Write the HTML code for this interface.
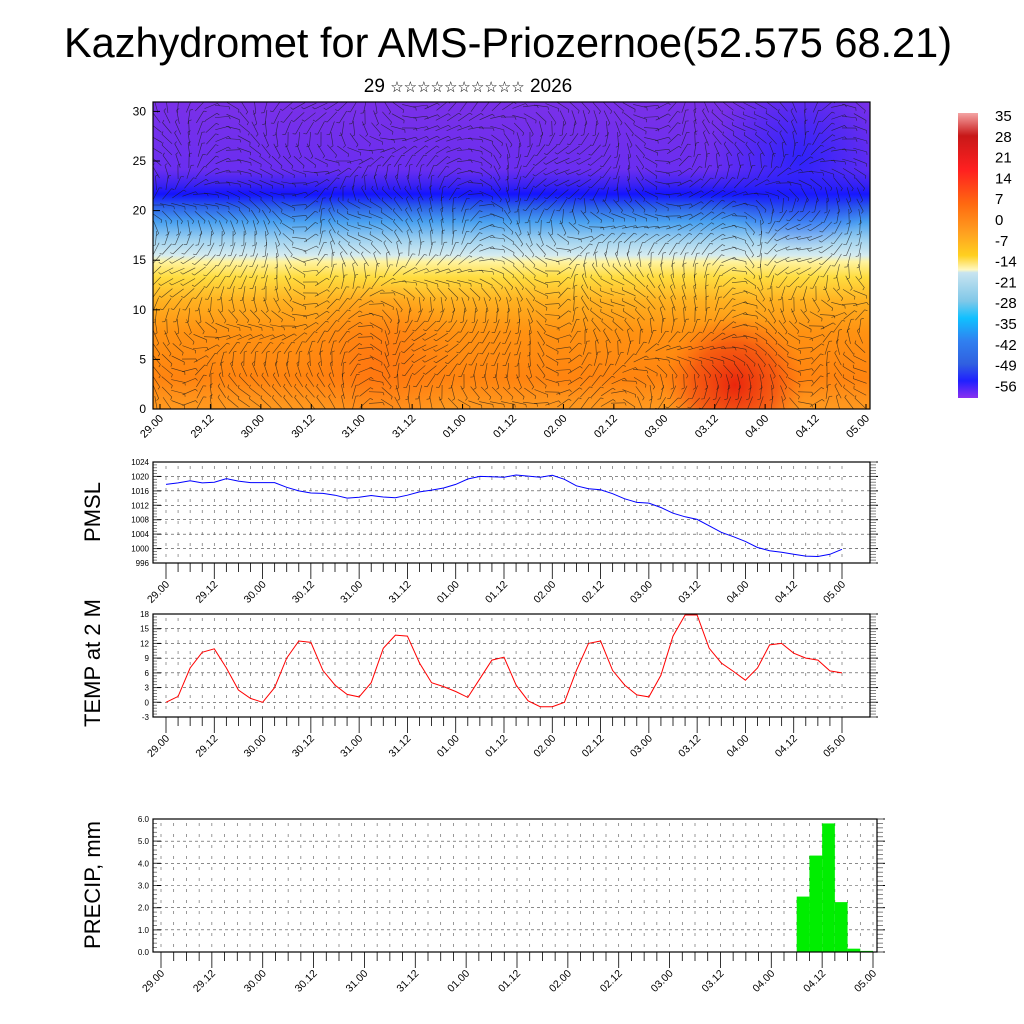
<!DOCTYPE html>
<html><head><meta charset="utf-8"><style>
body{margin:0;background:#fff;}
svg{display:block;font-family:"Liberation Sans",sans-serif;}
</style></head><body>
<svg id="s" width="1024" height="1024" viewBox="0 0 1024 1024" xmlns="http://www.w3.org/2000/svg">
<defs>
<linearGradient id="vg" x1="0" y1="102" x2="0" y2="409" gradientUnits="userSpaceOnUse">
<stop offset="0" stop-color="#7a30e8"/><stop offset="0.22" stop-color="#6a2ef0"/>
<stop offset="0.27" stop-color="#3a22f2"/><stop offset="0.30" stop-color="#1414ff"/>
<stop offset="0.34" stop-color="#2a5ee8"/><stop offset="0.39" stop-color="#48a0f0"/>
<stop offset="0.45" stop-color="#a0d2f0"/><stop offset="0.50" stop-color="#d6ecf0"/>
<stop offset="0.52" stop-color="#fff3a0"/><stop offset="0.57" stop-color="#ffdd40"/>
<stop offset="0.65" stop-color="#ffb020"/><stop offset="0.75" stop-color="#ff9212"/>
<stop offset="0.9" stop-color="#ff8410"/><stop offset="1" stop-color="#ff9a20"/>
</linearGradient>
<radialGradient id="rp" cx="735" cy="385" r="70" gradientUnits="userSpaceOnUse">
<stop offset="0" stop-color="#e8200c" stop-opacity="0.95"/><stop offset="0.6" stop-color="#f04010" stop-opacity="0.6"/><stop offset="1" stop-color="#ff6010" stop-opacity="0"/>
</radialGradient>
<radialGradient id="op" cx="380" cy="360" r="80" gradientUnits="userSpaceOnUse">
<stop offset="0" stop-color="#ff6a10" stop-opacity="0.6"/><stop offset="1" stop-color="#ff7010" stop-opacity="0"/>
</radialGradient>
<radialGradient id="bp" cx="800" cy="160" r="90" gradientUnits="userSpaceOnUse">
<stop offset="0" stop-color="#2020ff" stop-opacity="0.8"/><stop offset="1" stop-color="#2020ff" stop-opacity="0"/>
</radialGradient>
<linearGradient id="cb" x1="0" y1="113" x2="0" y2="398" gradientUnits="userSpaceOnUse">
<stop offset="0" stop-color="#f4a4a4"/><stop offset="0.08" stop-color="#c81818"/>
<stop offset="0.2" stop-color="#ff2020"/><stop offset="0.32" stop-color="#ff6a10"/>
<stop offset="0.42" stop-color="#ffa020"/><stop offset="0.5" stop-color="#ffd020"/>
<stop offset="0.55" stop-color="#fff8c0"/><stop offset="0.56" stop-color="#c8e4f0"/>
<stop offset="0.66" stop-color="#80c8e8"/><stop offset="0.72" stop-color="#10c0ff"/>
<stop offset="0.8" stop-color="#3080f0"/><stop offset="0.88" stop-color="#3060e0"/>
<stop offset="0.94" stop-color="#2020ff"/><stop offset="1" stop-color="#8a30f0"/>
</linearGradient>
<clipPath id="tc"><rect x="153" y="102" width="717" height="307"/></clipPath>
</defs>
<text x="508" y="57" font-size="41.5" text-anchor="middle">Kazhydromet for AMS-Priozernoe(52.575 68.21)</text>
<text x="468" y="92" font-size="19" text-anchor="middle">29 <tspan font-size="15">☆☆☆☆☆☆☆☆☆☆</tspan> 2026</text>
<g id="top">
<rect x="153" y="102" width="717" height="307" fill="url(#vg)"/>
<rect x="153" y="102" width="717" height="307" fill="url(#op)" clip-path="url(#tc)"/>
<rect x="153" y="102" width="717" height="307" fill="url(#rp)" clip-path="url(#tc)"/>
<rect x="153" y="102" width="717" height="307" fill="url(#bp)" clip-path="url(#tc)"/>
<g id="barbs" clip-path="url(#tc)" stroke="#1a1a1a" stroke-width="0.6" stroke-opacity="0.75"></g>
<rect x="153" y="102" width="717" height="307" fill="none" stroke="#000" stroke-width="1.2"/>
</g>
<rect x="958" y="113" width="20" height="285" fill="url(#cb)"/>
<g id="cbl" font-size="15"></g>
<g id="panels"></g>
</svg>
<script>
const NS='http://www.w3.org/2000/svg';
const svg=document.getElementById('s');
const timeLabels=['29.00','29.12','30.00','30.12','31.00','31.12','01.00','01.12','02.00','02.12','03.00','03.12','04.00','04.12','05.00'];
const pmsl=[1017.8,1018.2,1018.8,1018.2,1018.4,1019.4,1018.7,1018.3,1018.3,1018.3,1017,1016,1015.4,1015.3,1014.8,1014,1014.2,1014.7,1014.3,1014.1,1014.8,1015.7,1016.2,1016.8,1017.8,1019.3,1020,1019.9,1019.8,1020.4,1020.1,1019.8,1020.3,1019.2,1017.4,1016.6,1016.3,1015.2,1013.8,1012.8,1012.6,1011.4,1009.8,1008.8,1008.1,1006.3,1004.5,1003.3,1002,1000.3,999.4,999,998.4,997.9,997.8,998.4,999.8];
const temp=[0,1.2,7,10.2,10.9,7,2.5,0.8,0,3,9,12.5,12.2,6.5,3.5,1.6,1.1,4,11,13.7,13.5,8,4,3.2,2.2,1,4.8,8.6,9.2,3.5,0.3,-0.9,-0.9,0,6.5,12,12.5,6.5,3.5,1.5,1.1,5.5,13.5,17.8,17.8,11,8,6.3,4.5,7,11.7,12,10,9,8.6,6.4,6];
const precip=[0,0,0,0,0,0,0,0,0,0,0,0,0,0,0,0,0,0,0,0,0,0,0,0,0,0,0,0,0,0,0,0,0,0,0,0,0,0,0,0,0,0,0,0,0,0,0,0,0,0,2.5,4.35,5.8,2.25,0.15,0.05,0];
const pmslTicks=[996,1000,1004,1008,1012,1016,1020,1024];
const tempTicks=[-3,0,3,6,9,12,15,18];
const precipTicks=[0,1,2,3,4,5,6];
const topTicks=[0,5,10,15,20,25,30];
const cbLabels=[35,28,21,14,7,0,-7,-14,-21,-28,-35,-42,-49,-56];

function el(tag,attrs,parent){const e=document.createElementNS(NS,tag);for(const k in attrs)e.setAttribute(k,attrs[k]);(parent||svg).appendChild(e);return e;}

const cbg=document.getElementById('cbl');
cbLabels.forEach((v,i)=>{const t=el('text',{x:995,y:121+i*20.8},cbg);t.textContent=v;

});

const bg=document.getElementById('barbs');
for(let gy=106;gy<409;gy+=11){for(let gx=156;gx<870;gx+=11){
 const a=Math.sin(gx*0.021+gy*0.013)*1.6+Math.cos(gx*0.009-gy*0.03)*1.2+(gy<200?0:0.5*Math.sin(gx*0.05));
 const L=7,c=Math.cos(a)*L,s=Math.sin(a)*L;
 el('line',{x1:gx-c,y1:gy-s,x2:gx+c,y2:gy+s},bg);
 el('line',{x1:gx+c,y1:gy+s,x2:gx+c+Math.cos(a+1.2)*3,y2:gy+s+Math.sin(a+1.2)*3},bg);
}}

const topG=document.getElementById('top');
const ty=v=>409-v*9.92;
topTicks.forEach(v=>{const t=el('text',{x:146,y:ty(v)+4,'font-size':12,'text-anchor':'end'},topG);t.textContent=v;
 el('line',{x1:153,y1:ty(v),x2:160,y2:ty(v),stroke:'#000'},topG);});
timeLabels.forEach((l,i)=>{const x=160+i*(866-160)/14;
 el('line',{x1:x,y1:409,x2:x,y2:404,stroke:'#000'},topG);
 const t=el('text',{'font-size':11,'text-anchor':'end',transform:`translate(${x+4},${419}) rotate(-45)`},topG);t.textContent=l;
 
 });

function panel(name,box,x0,x1,ticks,fmt,vmin,vmax,data,type,color,title,titleY){
 const g=el('g',{},document.getElementById('panels'));
 
 
 const [bx0,by0,bx1,by1]=box;
 const X=i=>x0+i*(x1-x0)/56;
 const Y=v=>by1-(v-vmin)/(vmax-vmin)*(by1-by0);
 ticks.forEach(v=>{el('line',{x1:bx0,y1:Y(v),x2:bx1,y2:Y(v),stroke:'#444','stroke-width':0.6,'stroke-dasharray':'3,3'},g);
  const t=el('text',{x:bx0-4,y:Y(v)+3,'font-size':8,'text-anchor':'end'},g);t.textContent=fmt(v);
  
  
  el('line',{x1:bx0,y1:Y(v),x2:bx0+8,y2:Y(v),stroke:'#000'},g);
  el('line',{x1:bx1,y1:Y(v),x2:bx1+8,y2:Y(v),stroke:'#000'},g);});
 const minorN=(ticks.length-1)*5;
 for(let k=0;k<=minorN;k++){const v=vmin+k*(vmax-vmin)/minorN;
  el('line',{x1:bx0,y1:Y(v),x2:bx0+4,y2:Y(v),stroke:'#666','stroke-width':0.8},g);
  el('line',{x1:bx1,y1:Y(v),x2:bx1+6,y2:Y(v),stroke:'#666','stroke-width':0.8},g);}
 for(let i=0;i<=56;i++){const x=X(i);
  el('line',{x1:x,y1:by0+4,x2:x,y2:by1,stroke:'#555','stroke-width':0.6,'stroke-dasharray':'3,8'},g);
  el('line',{x1:x,y1:by1,x2:x,y2:by1+(i%4==0?16:9),stroke:'#000','stroke-width':0.8},g);}
 if(type==='line'){
  const pts=data.map((v,i)=>X(i).toFixed(1)+','+Y(v).toFixed(1)).join(' ');
  const p=el('polyline',{points:pts,fill:'none',stroke:color,'stroke-width':1},g);
  
  
 } else {
  data.forEach((v,i)=>{if(v<=0)return;
   const r=el('rect',{x:X(i),y:Y(v),width:X(i+1)-X(i),height:Y(0)-Y(v),fill:color},g);
   
   });
 }
 el('rect',{x:bx0,y:by0,width:bx1-bx0,height:by1-by0,fill:'none',stroke:'#000','stroke-width':1.2},g);
 timeLabels.forEach((l,i)=>{const x=X(i*4);
  const t=el('text',{'font-size':10.5,'text-anchor':'end',transform:`translate(${x+4},${by1+22}) rotate(-45)`},g);t.textContent=l;
  
  });
 const tt=el('text',{'font-size':22,'text-anchor':'middle',transform:`translate(100,${titleY}) rotate(-90)`},g);tt.textContent=title;
 
 
}
panel('pmsl',[153,462,870,563],166,842,pmslTicks,v=>v,996,1024,pmsl,'line','#0000ff','PMSL',512);
panel('temp',[153,614,870,717],166,842,tempTicks,v=>v,-3,18,temp,'line','#ff0000','TEMP at 2 M',663);
panel('precip',[153,819,877,952],161,873,precipTicks,v=>v.toFixed(1),0,6,precip,'bar','#00ee00','PRECIP, mm',885);
</script>
</body></html>
